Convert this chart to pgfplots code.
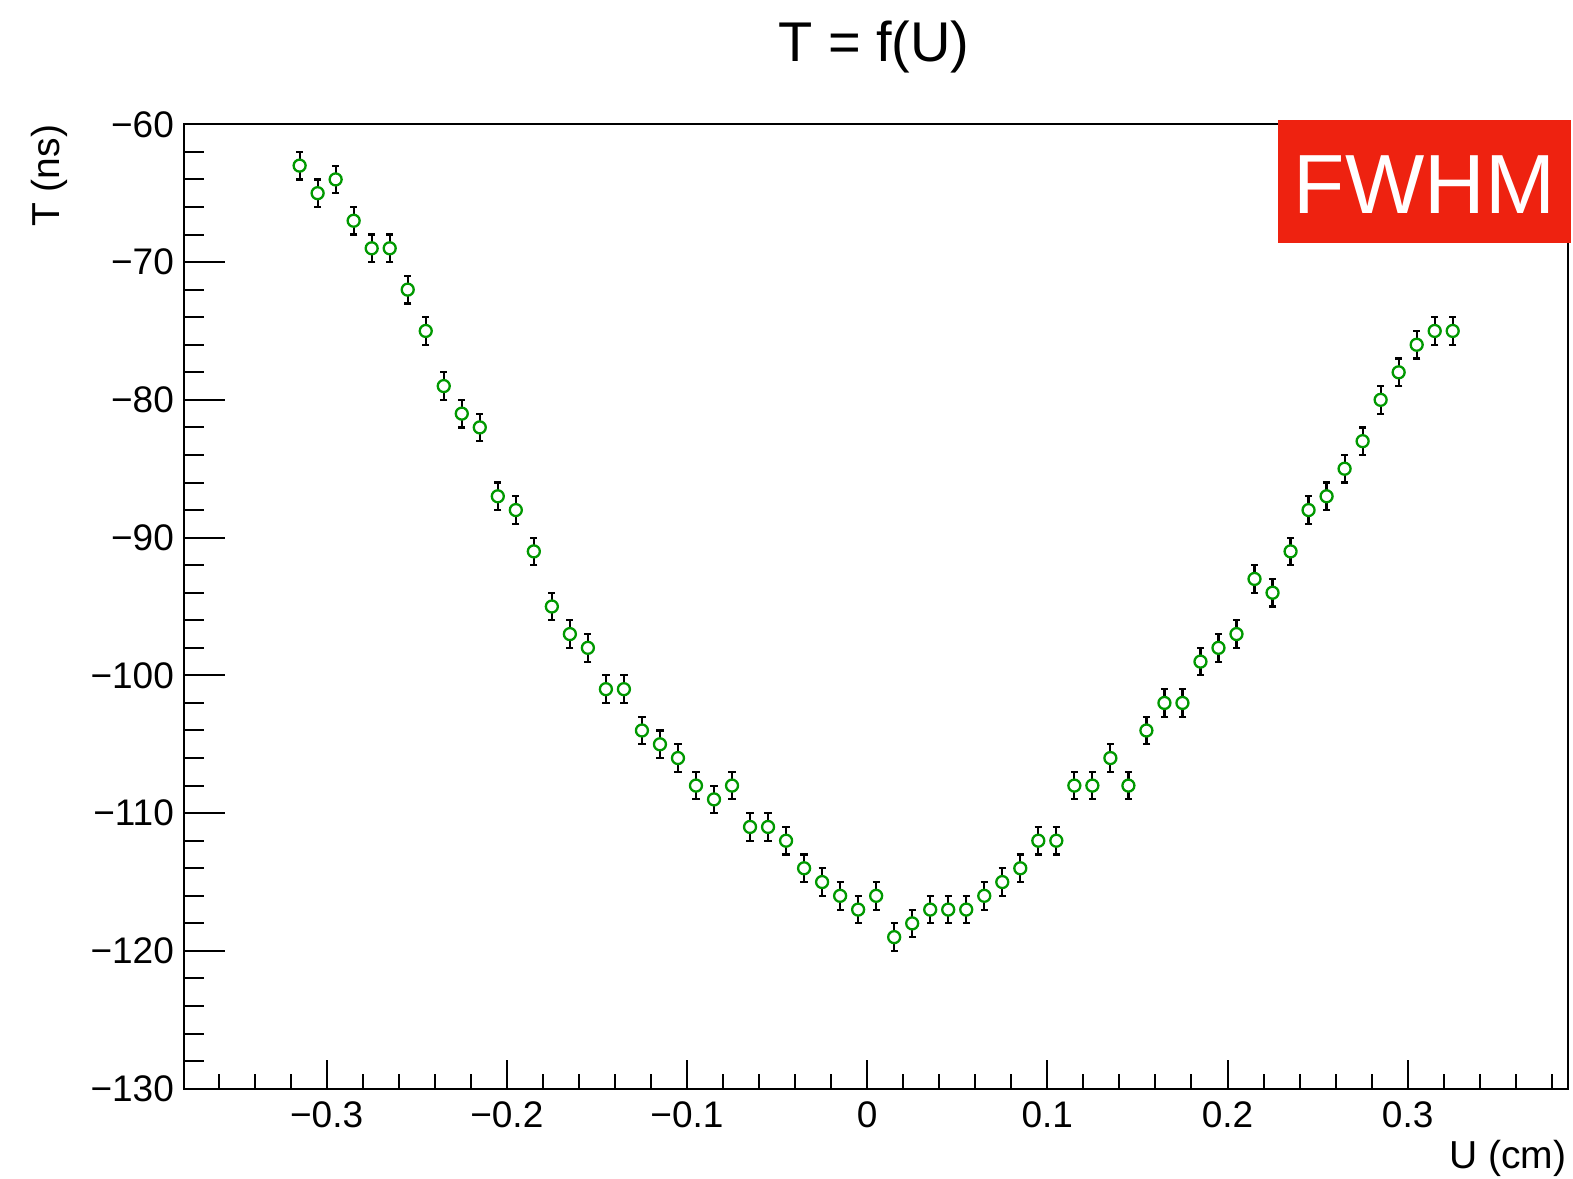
\documentclass[border=0pt]{standalone}
\usepackage{fontspec}
\setmainfont{Liberation Sans}
\usepackage{pgfplots}
\usepackage{pgfplotstable}
\pgfplotsset{compat=1.18}
\definecolor{mkgreen}{RGB}{0,153,0}
\definecolor{fwhmred}{RGB}{238,34,16}

\pgfplotstableread{
x y e
-0.315 -63 1
-0.305 -65 1
-0.295 -64 1
-0.285 -67 1
-0.275 -69 1
-0.265 -69 1
-0.255 -72 1
-0.245 -75 1
-0.235 -79 1
-0.225 -81 1
-0.215 -82 1
-0.205 -87 1
-0.195 -88 1
-0.185 -91 1
-0.175 -95 1
-0.165 -97 1
-0.155 -98 1
-0.145 -101 1
-0.135 -101 1
-0.125 -104 1
-0.115 -105 1
-0.105 -106 1
-0.095 -108 1
-0.085 -109 1
-0.075 -108 1
-0.065 -111 1
-0.055 -111 1
-0.045 -112 1
-0.035 -114 1
-0.025 -115 1
-0.015 -116 1
-0.005 -117 1
0.005 -116 1
0.015 -119 1
0.025 -118 1
0.035 -117 1
0.045 -117 1
0.055 -117 1
0.065 -116 1
0.075 -115 1
0.085 -114 1
0.095 -112 1
0.105 -112 1
0.115 -108 1
0.125 -108 1
0.135 -106 1
0.145 -108 1
0.155 -104 1
0.165 -102 1
0.175 -102 1
0.185 -99 1
0.195 -98 1
0.205 -97 1
0.215 -93 1
0.225 -94 1
0.235 -91 1
0.245 -88 1
0.255 -87 1
0.265 -85 1
0.275 -83 1
0.285 -80 1
0.295 -78 1
0.305 -76 1
0.315 -75 1
0.325 -75 1
}\datatable

\begin{document}
\begin{tikzpicture}
\useasboundingbox (0,0) rectangle (786.5pt,589pt);
\begin{axis}[
  at={(92.15pt,44.65pt)}, anchor=south west,
  scale only axis, width=691.85pt, height=482.2pt,
  xmin=-0.379, xmax=0.389, ymin=-130, ymax=-60,
  axis line style={line width=1pt},
  xtick=\empty,
  ytick={-130,-120,-110,-100,-90,-80,-70,-60},
  yticklabels={−130,−120,−110,−100,−90,−80,−70,−60},
  minor y tick num=4,
  ytick pos=left, tick align=inside,
  major tick length=20.6pt, minor tick length=10pt,
  every tick/.style={black, line width=1pt},
  yticklabel style={font=\fontsize{18.5}{20}\selectfont, anchor=east, inner sep=0pt, xshift=-5pt},
]
\addplot[only marks, mark=*, mark size=3pt,
  mark options={draw=mkgreen, fill=white, line width=1.15pt},
  error bars/.cd, y dir=both, y explicit,
  error bar style={black, line width=1.1pt},
  error mark=|,
  error mark options={black, line width=1.1pt, mark size=1.8pt}]
  table[x=x, y=y, y error=e] {\datatable};
\end{axis}
\begin{axis}[
  at={(92.15pt,44.65pt)}, anchor=south west,
  scale only axis, width=691.85pt, height=482.2pt,
  xmin=-0.379, xmax=0.389, ymin=-130, ymax=-60,
  axis line style={line width=1pt},
  ytick=\empty,
  xtick={-0.3,-0.2,-0.1,0,0.1,0.2,0.3},
  xticklabels={−0.3,−0.2,−0.1,0,0.1,0.2,0.3},
  minor xtick={-0.36,-0.34,-0.32,-0.28,-0.26,-0.24,-0.22,-0.18,-0.16,-0.14,-0.12,-0.08,-0.06,-0.04,-0.02,0.02,0.04,0.06,0.08,0.12,0.14,0.16,0.18,0.22,0.24,0.26,0.28,0.32,0.34,0.36,0.38},
  xtick pos=left, tick align=inside,
  major tick length=14.35pt, minor tick length=7.6pt,
  every tick/.style={black, line width=1pt},
  xticklabel style={font=\fontsize{18.5}{20}\selectfont, anchor=north, inner sep=0pt, yshift=-6.5pt},
]
\end{axis}
\fill[fwhmred] (639pt,529pt) rectangle (785.5pt,467.65pt);
\node[anchor=base, inner sep=0pt, text=white, font=\fontsize{42}{48}\selectfont] at (712.25pt,482.35pt) {FWHM};
\node[anchor=base, inner sep=0pt, font=\fontsize{28}{32}\selectfont] at (437pt,558.15pt) {T = f(U)};
\node[anchor=base east, inner sep=0pt, font=\fontsize{19.5}{22}\selectfont] at (783.25pt,5pt) {U (cm)};
\node[anchor=base east, rotate=90, inner sep=0pt, font=\fontsize{19.5}{22}\selectfont] at (29.5pt,526.75pt) {T (ns)};
\end{tikzpicture}
\end{document}
